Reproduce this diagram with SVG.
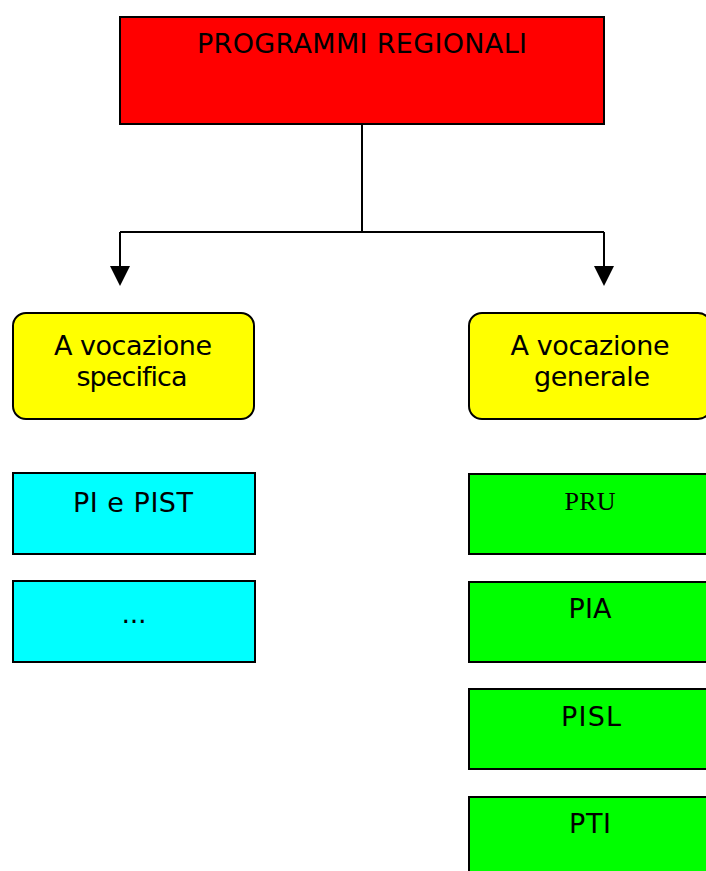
<svg xmlns="http://www.w3.org/2000/svg" width="706" height="871" viewBox="0 0 706 871">
  <style>
    .box { stroke: #000; stroke-width: 2; }
    .red { fill: #ff0000; }
    .yellow { fill: #ffff00; }
    .cyan { fill: #00ffff; }
    .green { fill: #00ff00; }
    .lbl { font-family: "DejaVu Sans", Verdana, sans-serif; font-size: 27px; fill: #000; text-anchor: middle; font-variant-ligatures: none; }
    .serif { font-family: "Liberation Serif", "Times New Roman", serif; font-size: 26px; fill: #000; text-anchor: middle; }
    .wire { fill: none; stroke: #000; stroke-width: 2; }
  </style>
  <rect width="706" height="871" fill="#fff"/>

  <g id="programmi-regionali">
    <rect class="box red" x="120" y="17" width="484" height="107"/>
    <text class="lbl" x="362" y="53" textLength="330" lengthAdjust="spacing">PROGRAMMI REGIONALI</text>
  </g>

  <g id="connectors">
    <path class="wire" d="M362 124 V232 M120 232 H604 M120 232 V268 M604 232 V268"/>
    <polygon points="110,266 130,266 120,286" fill="#000"/>
    <polygon points="594,266 614,266 604,286" fill="#000"/>
  </g>

  <g id="vocazione-specifica">
    <rect class="box yellow" x="13" y="313" width="241" height="106" rx="13" ry="13"/>
    <text class="lbl" x="133" y="355" textLength="158" lengthAdjust="spacing">A vocazione</text>
    <text class="lbl" x="132" y="386" textLength="111" lengthAdjust="spacing">specifica</text>
  </g>

  <g id="vocazione-generale">
    <rect class="box yellow" x="469" y="313" width="242" height="106" rx="13" ry="13"/>
    <text class="lbl" x="590" y="355" textLength="159" lengthAdjust="spacing">A vocazione</text>
    <text class="lbl" x="592" y="386" textLength="116" lengthAdjust="spacing">generale</text>
  </g>

  <g id="pi-e-pist">
    <rect class="box cyan" x="13" y="473" width="242" height="81"/>
    <text class="lbl" x="133" y="512" textLength="120" lengthAdjust="spacing">PI e PIST</text>
  </g>

  <g id="altri">
    <rect class="box cyan" x="13" y="581" width="242" height="81"/>
    <text class="lbl" x="134" y="623" textLength="25" lengthAdjust="spacing">...</text>
  </g>

  <g id="pru">
    <rect class="box green" x="469" y="474" width="242" height="80"/>
    <text class="serif" x="590" y="510" textLength="51" lengthAdjust="spacing">PRU</text>
  </g>

  <g id="pia">
    <rect class="box green" x="469" y="582" width="242" height="80"/>
    <text class="lbl" x="590" y="618" textLength="43" lengthAdjust="spacing">PIA</text>
  </g>

  <g id="pisl">
    <rect class="box green" x="469" y="689" width="242" height="80"/>
    <text class="lbl" x="591" y="726" textLength="60" lengthAdjust="spacing">PISL</text>
  </g>

  <g id="pti">
    <rect class="box green" x="469" y="797" width="242" height="90"/>
    <text class="lbl" x="590" y="833" textLength="42" lengthAdjust="spacing">PTI</text>
  </g>
</svg>
